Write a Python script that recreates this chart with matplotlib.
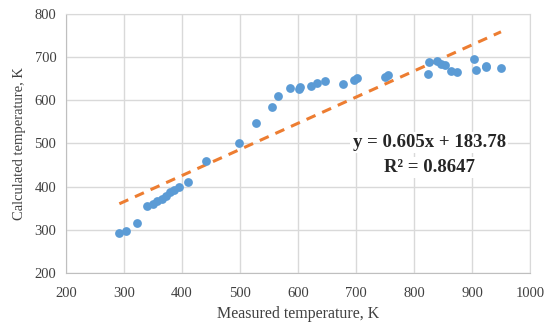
import numpy as np
import matplotlib
matplotlib.use("Agg")
import matplotlib.pyplot as plt

# Measured vs calculated temperature (K)
measured = [292, 303, 323, 340, 350, 357, 365, 372, 380, 387, 394, 411, 441, 498, 528,
            555, 566, 586, 602, 603, 622, 633, 646, 678, 697, 702, 750, 755,
            824, 826, 839, 846, 853, 863, 875, 903, 907, 924, 925, 950]
calculated = [292, 297, 315, 355, 360, 366, 372, 378, 387, 393, 400, 410, 459, 502, 547,
              584, 610, 628, 625, 631, 634, 640, 644, 637, 647, 651, 653, 658,
              661, 688, 691, 684, 681, 667, 665, 695, 670, 676, 679, 675]

slope = 0.605
intercept = 183.78
r2 = 0.8647

plt.rcParams["font.family"] = ["Liberation Serif", "DejaVu Serif"]

fig = plt.figure(figsize=(5.5, 3.31), dpi=100)
ax = fig.add_axes([0.12, 0.175, 0.8436, 0.783])

# Linear trendline over the measured range
xt = np.array([min(measured), max(measured)])
ax.plot(xt, slope * xt + intercept, color="#ED7D31", linestyle=(0, (3.2, 2.4)),
        linewidth=2.2, zorder=2)

ax.scatter(measured, calculated, s=40, color="#5B9BD5", zorder=3, linewidths=0)

ax.text(826, 503, f"y = {slope}x + {intercept}", ha="center", va="center",
        fontsize=13.5, fontweight="bold", color="#262626",
        bbox=dict(facecolor="white", edgecolor="none", pad=1.5), zorder=4)
ax.text(826, 445, f"R² = {r2}", ha="center", va="center",
        fontsize=13.5, fontweight="bold", color="#262626",
        bbox=dict(facecolor="white", edgecolor="none", pad=1.5), zorder=4)

ax.set_xlim(200, 1000)
ax.set_ylim(200, 800)
ax.set_xticks(np.arange(200, 1001, 100))
ax.set_yticks(np.arange(200, 801, 100))
ax.grid(True, color="#d9d9d9", linewidth=1)
ax.set_axisbelow(True)
for s in ax.spines.values():
    s.set_color("#d9d9d9")
ax.spines["left"].set_color("#bfbfbf")
ax.spines["bottom"].set_color("#bfbfbf")
ax.tick_params(length=0, labelsize=10.5, colors="#404040")
ax.tick_params(axis="x", pad=10)
ax.tick_params(axis="y", pad=7)

ax.set_xlabel("Measured temperature, K", fontsize=11.5, color="#404040", labelpad=4)
ax.set_ylabel("Calculated temperature, K", fontsize=10.5, color="#404040", labelpad=6)

fig.savefig("out.png", dpi=100)
